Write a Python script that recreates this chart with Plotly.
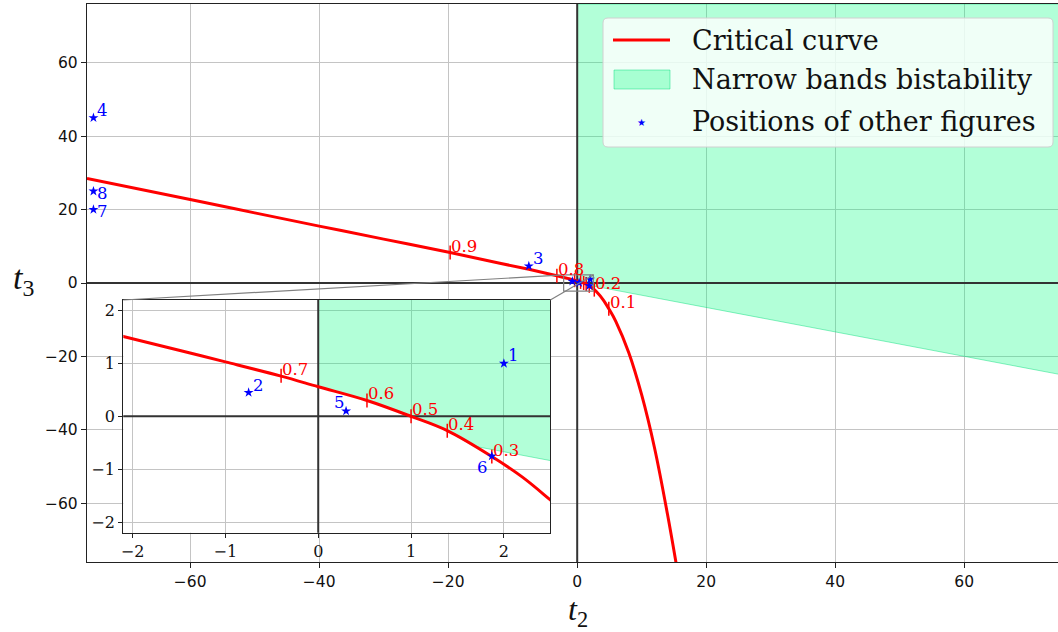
import plotly.graph_objects as go

# ---------------- data ----------------
curve_t2 = [-76, -60, -50, -40, -30, -19.7, -12, -7.5, -5, -3.15, -2.1, -1.5, -1.0, -0.4,
            0, 0.525, 1.0, 1.39, 1.87, 2.2, 2.5, 2.65, 3.0, 4.0, 4.9, 6.0, 8.0, 10.0, 12.0, 14.0, 15.4]
curve_t3 = [28.5, 22.75, 19.1, 15.5, 11.95, 8.3, 5.4, 3.72, 2.72, 1.96, 1.51, 1.25, 1.03, 0.76,
            0.56, 0.30, 0.0, -0.27, -0.76, -1.15, -1.58, -1.8, -2.4, -4.5, -7.0, -10.5, -19.0, -30.5, -45.0, -63.0, -77.0]

param_labels = ["0.1", "0.2", "0.3", "0.4", "0.5", "0.6", "0.7", "0.8", "0.9"]
param_t2 = [4.9, 2.65, 1.87, 1.39, 1.0, 0.525, -0.4, -3.15, -19.7]
param_t3 = [-7.0, -1.8, -0.76, -0.27, 0.0, 0.30, 0.77, 1.96, 8.3]

band_t2 = [0, 0.525, 1.0, 1.39, 1.67, 76, 76, 0]
band_t3 = [0.56, 0.30, 0.0, -0.27, -0.56, -25.3, 76, 76]

fig_ids = ["1", "2", "3", "4", "5", "6", "7", "8"]
fig_t2 = [2.0, -0.75, -7.5, -75, 0.3, 1.87, -75, -75]
fig_t3 = [1.0, 0.45, 4.6, 45, 0.1, -0.75, 20, 25]
fig_label_side = ["ur", "ur", "ur", "ur", "ul", "ll", "r", "r"]

x_ticks = [-60, -40, -20, 0, 20, 40, 60]
y_ticks = [-60, -40, -20, 0, 20, 40, 60]
inset_x_ticks = [-2, -1, 0, 1, 2]
inset_y_ticks = [-2, -1, 0, 1, 2]

# ---------------- layout geometry ----------------
W, H = 1058, 632
ML, MR, MT, MB = 87, 0, 4, 70
PW, PH = W - ML - MR, H - MT - MB
X_RANGE = [-76, -76 + PW / 6.45]
Y_RANGE = [-76, 76]
IX_RANGE = [-2.1, 2.5]
IY_RANGE = [-2.2, 2.2]


def px(x):
    return (x - ML) / PW


def py(y):
    return (H - MB - y) / PH


IDOM_X = [px(123.3), px(550.3)]
IDOM_Y = [py(532.7), py(300)]

RED = "#ff0000"
BLUE = "#0000ff"
GREEN_FILL = "rgba(0,255,127,0.30)"
GREEN_EDGE = "rgba(0,220,120,0.45)"
DARK = "#333333"
GRID = "#c4c4c4"
SERIF = "DejaVu Serif"

fig = go.Figure()


def add_layer(xa, ya, label_mask, star_label_mask, lbl_size):
    # green band
    fig.add_trace(go.Scatter(x=band_t2, y=band_t3, fill="toself", mode="lines",
                             fillcolor=GREEN_FILL, line=dict(color=GREEN_EDGE, width=1),
                             xaxis=xa, yaxis=ya, hoverinfo="skip", showlegend=False))
    # black zero lines
    fig.add_trace(go.Scatter(x=[0, 0], y=[-1000, 1000], mode="lines",
                             line=dict(color=DARK, width=2), xaxis=xa, yaxis=ya,
                             hoverinfo="skip", showlegend=False))
    fig.add_trace(go.Scatter(x=[-1000, 1000], y=[0, 0], mode="lines",
                             line=dict(color=DARK, width=2), xaxis=xa, yaxis=ya,
                             hoverinfo="skip", showlegend=False))
    # critical curve
    fig.add_trace(go.Scatter(x=curve_t2, y=curve_t3, mode="lines", line=dict(color=RED, width=3),
                             line_shape="spline", xaxis=xa, yaxis=ya, hoverinfo="skip", showlegend=False))
    # parameter ticks
    fig.add_trace(go.Scatter(x=param_t2, y=param_t3, mode="markers",
                             marker=dict(symbol="line-ns", size=10, line=dict(color=RED, width=1.5)),
                             xaxis=xa, yaxis=ya, hoverinfo="skip", showlegend=False))
    # stars
    fig.add_trace(go.Scatter(x=fig_t2, y=fig_t3, mode="markers",
                             marker=dict(symbol="star", size=7.5, color=BLUE),
                             xaxis=xa, yaxis=ya, hoverinfo="skip", showlegend=False))
    for lab, x, y, show in zip(param_labels, param_t2, param_t3, label_mask):
        if show:
            fig.add_annotation(x=x, y=y, xref=xa, yref=ya, text=lab, showarrow=False,
                               xanchor="left", yanchor="bottom", xshift=-1, yshift=-5,
                               font=dict(family=SERIF, size=lbl_size, color=RED))
    for lab, x, y, side, show in zip(fig_ids, fig_t2, fig_t3, fig_label_side, star_label_mask):
        if not show:
            continue
        if side == "ur":
            kw = dict(xanchor="left", yanchor="bottom", xshift=2, yshift=-4)
        elif side == "ul":
            kw = dict(xanchor="right", yanchor="bottom", xshift=1, yshift=-3)
        elif side == "ll":
            kw = dict(xanchor="right", yanchor="top", xshift=-2, yshift=0)
        else:
            kw = dict(xanchor="left", yanchor="middle", xshift=2, yshift=-2)
        fig.add_annotation(x=x, y=y, xref=xa, yref=ya, text=lab, showarrow=False,
                           font=dict(family=SERIF, size=lbl_size, color=BLUE), **kw)


def inside_inset(x, y):
    return IX_RANGE[0] <= x <= IX_RANGE[1] and IY_RANGE[0] <= y <= IY_RANGE[1]


main_lbl = [not inside_inset(x, y) for x, y in zip(param_t2, param_t3)]
inset_lbl = [inside_inset(x, y) for x, y in zip(param_t2, param_t3)]
main_star = [not inside_inset(x, y) for x, y in zip(fig_t2, fig_t3)]
inset_star = [inside_inset(x, y) for x, y in zip(fig_t2, fig_t3)]

add_layer("x", "y", main_lbl, main_star, 16.5)
add_layer("x2", "y2", inset_lbl, inset_star, 16.5)

tick_common = dict(showgrid=True, gridcolor=GRID, gridwidth=1.2, zeroline=False,
                   showline=True, linecolor="#222", ticks="outside", tickcolor="#222")

fig.update_layout(
    width=W, height=H,
    margin=dict(l=ML, r=MR, t=MT, b=MB),
    paper_bgcolor="white", plot_bgcolor="white",
    showlegend=False,
    xaxis=dict(range=X_RANGE, domain=[0, 1], tickvals=x_ticks,
               ticktext=[str(v).replace("-", "\u2212") for v in x_ticks],
               linewidth=1.4, mirror=True, ticklen=5, tickwidth=1.2,
               tickfont=dict(family="DejaVu Sans", size=15.5, color="#111"), **tick_common),
    yaxis=dict(range=Y_RANGE, domain=[0, 1], tickvals=y_ticks,
               ticktext=[str(v).replace("-", "\u2212") for v in y_ticks],
               linewidth=1.4, mirror=False, ticklen=5, tickwidth=1.2,
               tickfont=dict(family="DejaVu Sans", size=15.5, color="#111"), **tick_common),
    xaxis2=dict(range=IX_RANGE, domain=IDOM_X, anchor="y2", tickvals=inset_x_ticks,
                ticktext=[str(v).replace("-", "\u2212") for v in inset_x_ticks],
                linewidth=1.3, mirror=True, ticklen=4, tickwidth=1.1,
                tickfont=dict(family=SERIF, size=16, color="#111"), **tick_common),
    yaxis2=dict(range=IY_RANGE, domain=IDOM_Y, anchor="x2", tickvals=inset_y_ticks,
                ticktext=[str(v).replace("-", "\u2212") for v in inset_y_ticks],
                linewidth=1.3, mirror=True, ticklen=4, tickwidth=1.1,
                tickfont=dict(family=SERIF, size=16, color="#111"), **tick_common),
)

shapes = []
# white background of the inset (hides main grid)
shapes.append(dict(type="rect", xref="x2 domain", yref="y2 domain", x0=0, x1=1, y0=0, y1=1,
                   fillcolor="white", line=dict(width=0), layer="below"))
# zoom rectangle in main axes
shapes.append(dict(type="rect", xref="x", yref="y", x0=IX_RANGE[0], x1=IX_RANGE[1],
                   y0=IY_RANGE[0], y1=IY_RANGE[1], line=dict(color="#808080", width=1.2),
                   fillcolor="rgba(0,0,0,0)", layer="above"))


def dx(x):
    return (x - X_RANGE[0]) / (X_RANGE[1] - X_RANGE[0])


def dy(y):
    return (y - Y_RANGE[0]) / (Y_RANGE[1] - Y_RANGE[0])


for cx_inset, cx_data in ((IDOM_X[0], IX_RANGE[0]), (IDOM_X[1], IX_RANGE[1])):
    shapes.append(dict(type="line", xref="paper", yref="paper", x0=cx_inset, y0=IDOM_Y[1],
                       x1=dx(cx_data), y1=dy(IY_RANGE[1]), line=dict(color="#808080", width=1.2),
                       layer="above"))

# legend box (manual)
lx0, ly0, lx1, ly1 = 603, 18, 1053, 147
r = 5
path = (f"M {px(lx0 + r)},{py(ly0)} L {px(lx1 - r)},{py(ly0)} "
        f"Q {px(lx1)},{py(ly0)} {px(lx1)},{py(ly0 + r)} L {px(lx1)},{py(ly1 - r)} "
        f"Q {px(lx1)},{py(ly1)} {px(lx1 - r)},{py(ly1)} L {px(lx0 + r)},{py(ly1)} "
        f"Q {px(lx0)},{py(ly1)} {px(lx0)},{py(ly1 - r)} L {px(lx0)},{py(ly0 + r)} "
        f"Q {px(lx0)},{py(ly0)} {px(lx0 + r)},{py(ly0)} Z")
shapes.append(dict(type="path", xref="paper", yref="paper", path=path,
                   fillcolor="rgba(255,255,255,0.8)", line=dict(color="#d0d0d0", width=1), layer="above"))
shapes.append(dict(type="line", xref="paper", yref="paper", x0=px(613), x1=px(670), y0=py(40), y1=py(40),
                   line=dict(color=RED, width=3), layer="above"))
shapes.append(dict(type="rect", xref="paper", yref="paper", x0=px(614), x1=px(670), y0=py(89), y1=py(70),
                   fillcolor=GREEN_FILL, line=dict(color=GREEN_EDGE, width=1), layer="above"))
fig.update_layout(shapes=shapes)

legend_texts = ["Critical curve", "Narrow bands bistability", "Positions of other figures"]
legend_y = [40, 80, 121]
for t, yy in zip(legend_texts, legend_y):
    fig.add_annotation(x=px(690), y=py(yy), xref="paper", yref="paper", text=t, showarrow=False,
                       xanchor="left", yanchor="middle",
                       font=dict(family=SERIF, size=27, color="#111"))
fig.add_annotation(x=px(641), y=py(122), xref="paper", yref="paper", text="\u2605", showarrow=False,
                   xanchor="center", yanchor="middle", font=dict(family="DejaVu Sans", size=10, color=BLUE))

# axis titles
fig.add_annotation(x=px(578), y=py(611), xref="paper", yref="paper", text="<i>t</i><sub>2</sub>",
                   showarrow=False, xanchor="center", yanchor="middle",
                   font=dict(family="Liberation Serif", size=32, color="#111"))
fig.add_annotation(x=px(24), y=py(280), xref="paper", yref="paper", text="<i>t</i><sub>3</sub>",
                   showarrow=False, xanchor="center", yanchor="middle",
                   font=dict(family="Liberation Serif", size=34, color="#111"))

fig.write_html("out.html")
